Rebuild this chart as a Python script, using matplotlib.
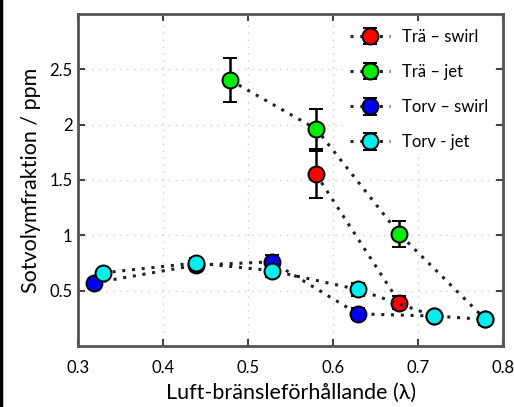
import matplotlib
matplotlib.use('Agg')
from matplotlib import pyplot as plt

plt.rcParams['font.family'] = ['Lato', 'DejaVu Sans']

# data
tra_swirl_x = [0.58, 0.678]
tra_swirl_y = [1.55, 0.39]
tra_swirl_err = [0.21, 0.06]

tra_jet_x = [0.479, 0.58, 0.678, 0.779]
tra_jet_y = [2.40, 1.96, 1.01, 0.24]
tra_jet_err = [0.20, 0.18, 0.12, 0.05]

torv_swirl_x = [0.319, 0.439, 0.528, 0.629, 0.719]
torv_swirl_y = [0.57, 0.73, 0.76, 0.29, 0.27]
torv_swirl_err = [0.03, 0.04, 0.06, 0.05, 0.04]

torv_jet_x = [0.329, 0.439, 0.528, 0.629, 0.719, 0.779]
torv_jet_y = [0.66, 0.75, 0.68, 0.51, 0.27, 0.24]
torv_jet_err = [0.03, 0.04, 0.06, 0.06, 0.04, 0.05]

serier = [
    (tra_swirl_x, tra_swirl_y, tra_swirl_err, '#ff0000', 'Trä – swirl'),
    (tra_jet_x, tra_jet_y, tra_jet_err, '#00ee00', 'Trä – jet'),
    (torv_swirl_x, torv_swirl_y, torv_swirl_err, '#0000ee', 'Torv – swirl'),
    (torv_jet_x, torv_jet_y, torv_jet_err, '#00eeee', 'Torv - jet'),
]

fig = plt.figure(figsize=(5.14, 4.07), dpi=100)
ax = fig.add_axes([0.152, 0.150, 0.827, 0.816])

for x, y, err, farg, namn in serier:
    ax.errorbar(x, y, yerr=err, fmt='o', linestyle=(0, (1, 2.2)), color='#222222',
                lw=2.2, markersize=11.5, markerfacecolor=farg, markeredgecolor='black',
                markeredgewidth=1.4, ecolor='black', elinewidth=1.8, capsize=5,
                capthick=1.8, label=namn)

ax.set_xlim(0.3, 0.8)
ax.set_ylim(0, 3)
ax.set_xticks([0.3, 0.4, 0.5, 0.6, 0.7, 0.8])
ax.set_xticklabels(['0.3', '0.4', '0.5', '0.6', '0.7', '0.8'])
ax.set_yticks([0.5, 1, 1.5, 2, 2.5])
ax.set_yticklabels(['0.5', '1', '1.5', '2', '2.5'])
ax.tick_params(direction='in', length=5, width=1.5, colors='#444444',
               labelcolor='black', labelsize=12, top=True, right=True)
ax.tick_params(axis='x', pad=10)
ax.tick_params(axis='y', pad=4)
ax.grid(True, linestyle=(0, (1, 4)), color='#cccccc', lw=1)
for s in ax.spines.values():
    s.set_linewidth(2)
    s.set_color('#555555')

ax.set_xlabel('Luft-bränsleförhållande (λ)', fontsize=15.5, labelpad=5)
ax.set_ylabel('Sotvolymfraktion / ppm', fontsize=15.5, labelpad=6)

leg = ax.legend(loc='upper right', bbox_to_anchor=(0.98, 0.975), frameon=True,
                fontsize=12, labelspacing=1.15, handlelength=2.4, handletextpad=0.7,
                borderaxespad=0.0)
leg.get_frame().set_linewidth(0)
leg.get_frame().set_facecolor('white')
leg.get_frame().set_alpha(1)

# black edge on the left of the picture
fig.add_artist(plt.Line2D([0.002, 0.002], [0, 1], color='black', lw=2.5,
                          transform=fig.transFigure))

fig.savefig('out.png', dpi=100)
